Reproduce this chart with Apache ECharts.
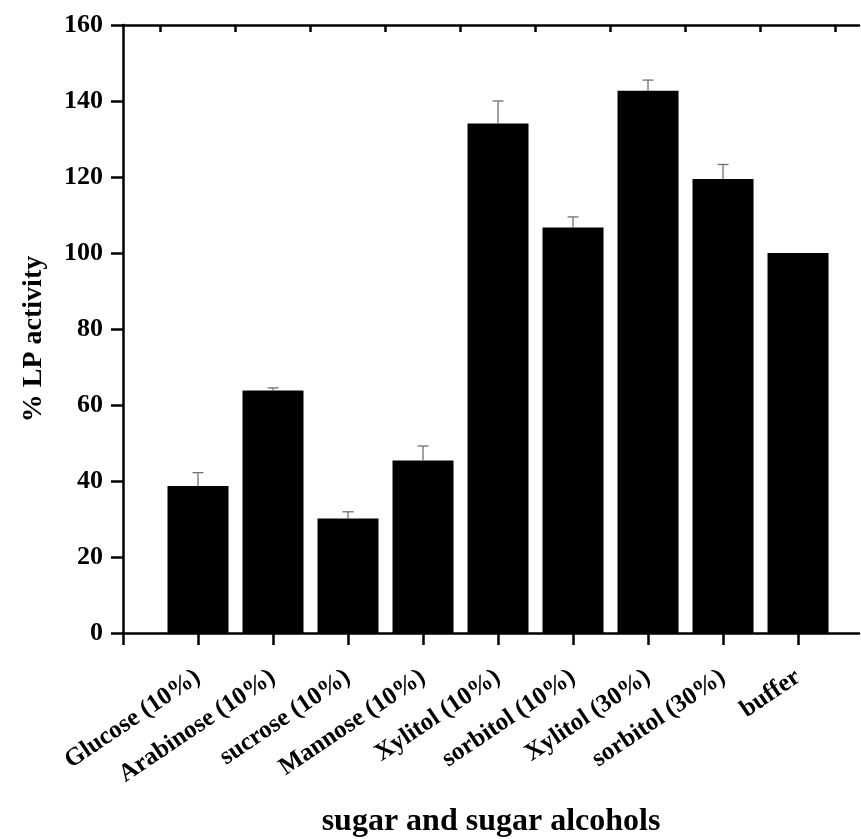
<!DOCTYPE html>
<html>
<head>
<meta charset="utf-8">
<script src="https://cdn.jsdelivr.net/npm/echarts@6/dist/echarts.min.js"></script>
<style>
  html, body { margin: 0; padding: 0; background: #fff; }
  #chart { width: 861px; height: 839px; }
</style>
</head>
<body>
<div id="chart"></div>
<script>
// Sugars / sugar alcohols and the resulting LP activity (% of buffer control)
const categories = [
  'Glucose (10%)', 'Arabinose (10%)', 'sucrose (10%)', 'Mannose (10%)',
  'Xylitol (10%)', 'sorbitol (10%)', 'Xylitol (30%)', 'sorbitol (30%)', 'buffer'
];
const activity = [38.7, 63.8, 30.1, 45.4, 134.1, 106.7, 142.7, 119.5, 100];
const errorUp  = [3.5, 0.7, 1.8, 3.8, 5.9, 2.8, 2.8, 3.8, 0];
const yTicks = [0, 20, 40, 60, 80, 100, 120, 140, 160];

// Categories sit at positions 1..9 on a numeric axis; the frame is cut off
// just before position 10 on the right.
const xPositions = categories.map((_, i) => i + 1);
const bottomTicks = [0].concat(xPositions);
const topTicks = [0].concat(xPositions).map(p => p + 0.5);
const X_MAX = 9.813;

const FONT = "'Liberation Serif', 'Times New Roman', serif";

const barData = activity.map((v, i) => [xPositions[i], v]);
const errData = activity.map((v, i) => [xPositions[i], v, v + errorUp[i]]);

const chart = echarts.init(document.getElementById('chart'), null, { renderer: 'canvas' });

chart.setOption({
  backgroundColor: '#ffffff',
  animation: false,
  grid: {
    left: 123, top: 25, right: 2, bottom: 206,
    containLabel: false, outerBoundsMode: 'none'
  },
  xAxis: [
    {
      type: 'value', position: 'bottom', min: 0, max: X_MAX,
      axisLine: { show: true, onZero: false, lineStyle: { color: '#000', width: 2.5 } },
      axisTick: {
        show: true, length: 12, inside: false, customValues: bottomTicks,
        lineStyle: { color: '#000', width: 2.5 }
      },
      splitLine: { show: false },
      axisLabel: {
        customValues: xPositions,
        rotate: 34, margin: 42,
        color: '#000', fontFamily: FONT, fontWeight: 'bold', fontSize: 25,
        formatter: v => categories[Math.round(v) - 1] || ''
      },
      name: 'sugar and sugar alcohols',
      nameLocation: 'middle', nameGap: 173,
      nameTextStyle: { color: '#000', fontFamily: FONT, fontWeight: 'bold', fontSize: 32 }
    },
    {
      type: 'value', position: 'top', min: 0, max: X_MAX,
      axisLine: { show: true, onZero: false, lineStyle: { color: '#000', width: 2.5 } },
      axisTick: {
        show: true, inside: true, length: 7, customValues: topTicks,
        lineStyle: { color: '#000', width: 2.5 }
      },
      splitLine: { show: false },
      axisLabel: { show: false }
    }
  ],
  yAxis: {
    type: 'value', min: yTicks[0], max: yTicks[yTicks.length - 1], interval: yTicks[1] - yTicks[0],
    axisLine: { show: true, lineStyle: { color: '#000', width: 2.5 } },
    axisTick: { show: true, length: 12, inside: false, lineStyle: { color: '#000', width: 2.5 } },
    splitLine: { show: false },
    axisLabel: { margin: 20, color: '#000', fontFamily: FONT, fontWeight: 'bold', fontSize: 26 },
    name: '% LP activity',
    nameLocation: 'middle', nameGap: 75, nameRotate: 90,
    nameTextStyle: {
      color: '#000', fontFamily: FONT, fontWeight: 'bold', fontSize: 28,
      padding: [0, 20, 0, 0]
    }
  },
  series: [
    {
      type: 'bar',
      xAxisIndex: 0,
      data: barData,
      barWidth: 61,
      itemStyle: { color: '#000' }
    },
    {
      // upper error whiskers with a small cap
      type: 'custom',
      xAxisIndex: 0,
      data: errData,
      z: 5,
      renderItem: (params, api) => {
        const x = api.value(0);
        const top = api.value(2);
        const base = api.value(1);
        if (top <= base) return null;
        const p0 = api.coord([x, base]);
        const p1 = api.coord([x, top]);
        const half = 5.5;
        const style = { stroke: '#707070', lineWidth: 1.3 };
        return {
          type: 'group',
          children: [
            { type: 'line', shape: { x1: p0[0], y1: p0[1], x2: p1[0], y2: p1[1] }, style },
            { type: 'line', shape: { x1: p1[0] - half, y1: p1[1], x2: p1[0] + half, y2: p1[1] }, style }
          ]
        };
      }
    }
  ]
});
</script>
</body>
</html>
